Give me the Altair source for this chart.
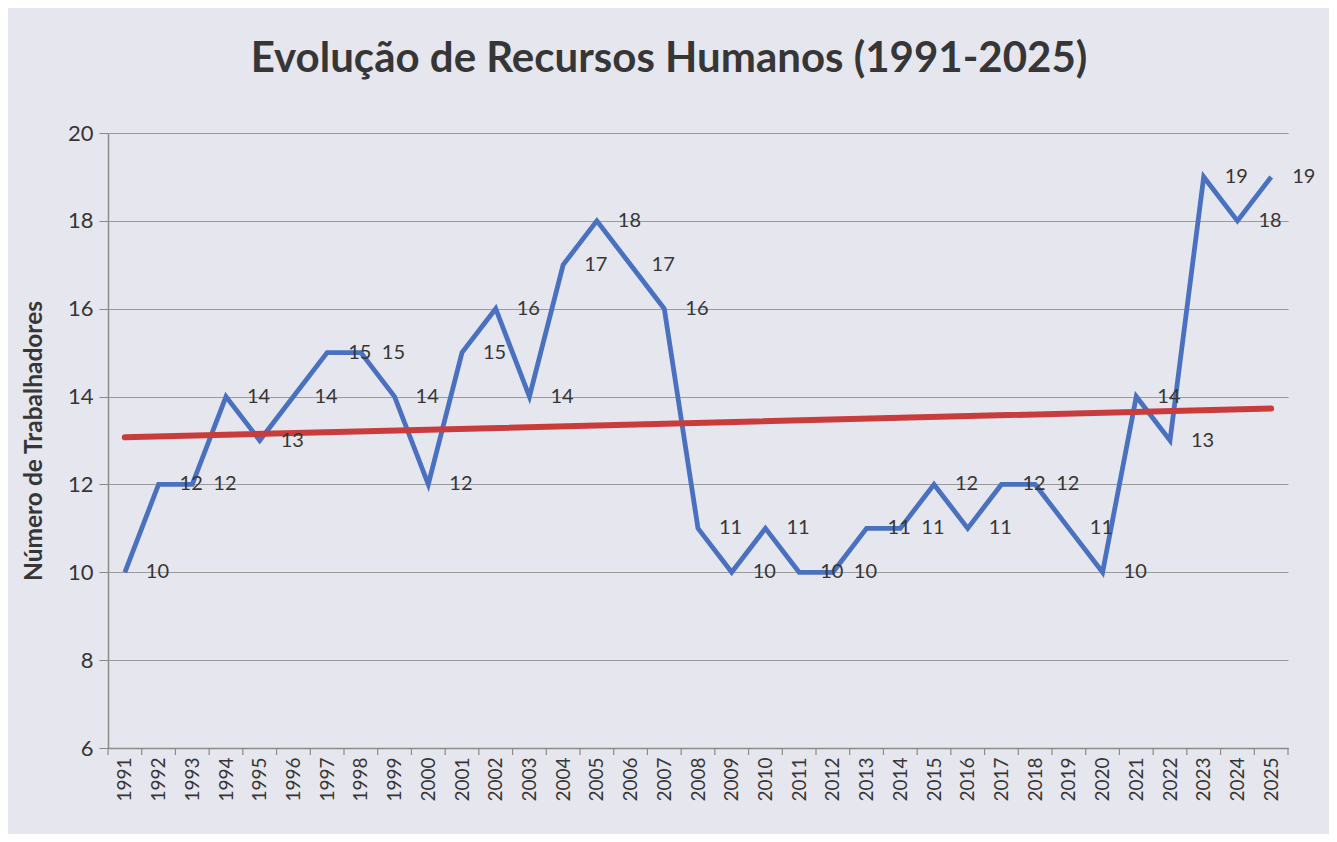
import altair as alt
import pandas as pd

years = list(range(1991, 2026))
workers = [10, 12, 12, 14, 13, 14, 15, 15, 14, 12,
           15, 16, 14, 17, 18, 17, 16, 11, 10, 11,
           10, 10, 11, 11, 12, 11, 12, 12, 11, 10,
           14, 13, 19, 18, 19]
y_ticks = [6, 8, 10, 12, 14, 16, 18, 20]
chart_title = "Evolução de Recursos Humanos (1991-2025)"
y_title = "Número de Trabalhadores"

df = pd.DataFrame({"ano": years, "trab": workers})
bounds = pd.DataFrame({"ano": [y - 0.5 for y in years] + [years[-1] + 0.5]})

FONT = "Lato"
TXT = "#363636"
GRID = "#9a9a9a"
AXC = "#8a8a8a"

xscale = alt.Scale(domain=[years[0] - 0.5, years[-1] + 0.5], nice=False, zero=False)
yscale = alt.Scale(domain=[y_ticks[0], y_ticks[-1]], nice=False, zero=False)

x_axis = alt.Axis(values=years, format="d", labelAngle=-90, labelAlign="right",
                  labelBaseline="middle", ticks=False, tickSize=0, grid=False,
                  labelPadding=9, labelFont=FONT, labelFontSize=19,
                  labelColor=TXT, domainColor=AXC, domainWidth=1.5,
                  title=None, labelOverlap=False, labelBound=False, labelFlush=False)
y_axis = alt.Axis(values=y_ticks, title=y_title, titleFont=FONT, titleFontSize=24.5,
                  titleFontWeight="bold", titleColor=TXT, titleX=-67,
                  titleBaseline="alphabetic", labelFont=FONT, labelFontSize=22,
                  labelColor=TXT, labelPadding=6, tickSize=9, tickColor=AXC,
                  domainColor=AXC, domainWidth=1.5, gridColor=GRID,
                  gridWidth=1, labelOverlap=False)

x_enc = alt.X("ano:Q", scale=xscale, axis=x_axis)
y_enc = alt.Y("trab:Q", scale=yscale, axis=y_axis)

base = alt.Chart(df)
line = base.mark_line(color="#4a70c0", strokeWidth=4.8, strokeJoin="miter").encode(x=x_enc, y=y_enc)
trend = base.transform_regression("ano", "trab").mark_line(
    color="#c83c3c", strokeWidth=6, strokeCap="round").encode(x=x_enc, y=y_enc)
labels = base.mark_text(align="left", baseline="middle", dx=21, font=FONT, fontSize=20,
                        color=TXT).encode(x=x_enc, y=y_enc, text="trab:Q")
ticks = alt.Chart(bounds).mark_rule(color=AXC, strokeWidth=1.2).encode(
    x=x_enc, y=alt.value(615), y2=alt.value(622))

chart = alt.layer(line, trend, labels, ticks).properties(
    width=1180, height=615,
    padding={"left": 100, "top": 125, "right": 41, "bottom": 86},
    autosize=alt.AutoSizeParams(type="none"),
    title=alt.TitleParams(chart_title, font=FONT, fontSize=42, fontWeight="bold", color=TXT,
                          anchor="middle", dx=-29, offset=8, baseline="alphabetic"),
).configure(background="#e6e6ee").configure_view(stroke=None)

chart.save("out.html", embed_options={"renderer": "svg", "actions": False})
